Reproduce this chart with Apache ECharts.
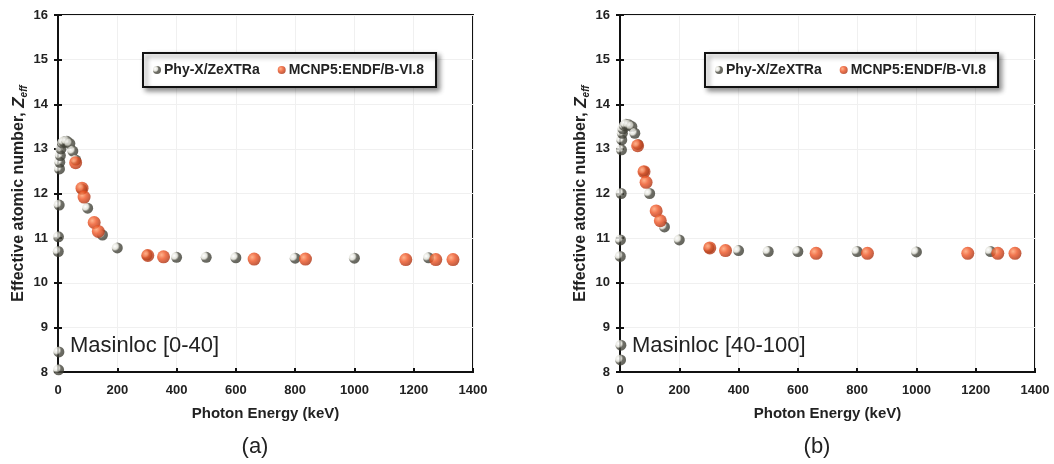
<!DOCTYPE html>
<html>
<head>
<meta charset="utf-8">
<script src="https://cdn.jsdelivr.net/npm/echarts@6/dist/echarts.min.js"></script>
<style>
html,body{margin:0;padding:0;background:#fff;}
#chart{width:1054px;height:464px;}
</style>
</head>
<body>
<div id="chart"></div>
<script>
// ---- data ----
const xTicks = [0, 200, 400, 600, 800, 1000, 1200, 1400];
const yTicks = [8, 9, 10, 11, 12, 13, 14, 15, 16];
const seriesNames = ['Phy-X/ZeXTRa', 'MCNP5:ENDF/B-VI.8'];
const panelLabels = ['Masinloc [0-40]', 'Masinloc [40-100]'];
const captions = ['(a)', '(b)'];

const phyxEnergy = [1, 1.5, 2, 3, 4, 5, 6, 8, 10, 15, 20, 30, 40, 50, 60, 80, 100, 150, 200, 300, 400, 500, 600, 800, 1000, 1250];
const phyxA = [10.70, 11.03, 8.05, 8.45, 11.74, 12.55, 12.70, 12.85, 13.00, 13.13, 13.16, 13.17, 13.12, 12.95, 12.75, 12.10, 11.67, 11.07, 10.78, 10.62, 10.57, 10.57, 10.56, 10.55, 10.55, 10.56];
const phyxB = [10.59, 10.96, 8.27, 8.60, 12.00, 12.98, 13.20, 13.35, 13.45, 13.52, 13.55, 13.54, 13.50, 13.35, 13.10, 12.50, 12.00, 11.25, 10.96, 10.78, 10.72, 10.70, 10.70, 10.70, 10.69, 10.70];

const mcnpEnergy = [59.5, 81, 88, 122, 136, 302.9, 356, 661.7, 834.8, 1173.2, 1274.5, 1332.5];
const mcnpA = [12.69, 12.12, 11.92, 11.35, 11.15, 10.61, 10.58, 10.53, 10.53, 10.52, 10.52, 10.52];
const mcnpB = [13.07, 12.49, 12.25, 11.61, 11.39, 10.78, 10.72, 10.66, 10.66, 10.66, 10.66, 10.66];

// ---- build ----
const FONT = '"Liberation Sans", Arial, sans-serif';
const chart = echarts.init(document.getElementById('chart'));
const pair = (xs, ys) => xs.map((x, i) => [x, ys[i]]);

const grayBall = new echarts.graphic.RadialGradient(0.28, 0.35, 0.8, [
  {offset: 0, color: '#ffffff'},
  {offset: 0.35, color: '#dcdcd2'},
  {offset: 0.55, color: '#4a4a40'},
  {offset: 1, color: '#3a3a30'}
]);
const orangeBall = new echarts.graphic.RadialGradient(0.35, 0.35, 0.7, [
  {offset: 0, color: '#ffa070'},
  {offset: 0.45, color: '#ee5424'},
  {offset: 1, color: '#a83010'}
]);

const gridLefts = [58, 620];
const grids = [], xAxes = [], yAxes = [], series = [], legends = [], graphics = [];

gridLefts.forEach((gl, k) => {
  grids.push({left: gl, top: 15, width: 415, height: 357, show: true, borderColor: '#111', borderWidth: 2, backgroundColor: 'transparent'});
  xAxes.push({
    gridIndex: k, type: 'value', min: xTicks[0], max: xTicks[xTicks.length - 1], interval: 200,
    name: 'Photon Energy (keV)', nameLocation: 'middle', nameGap: 34,
    nameTextStyle: {fontFamily: FONT, fontWeight: 'bold', fontSize: 15, color: '#222'},
    axisLine: {show: true, onZero: false, lineStyle: {color: '#111', width: 2}},
    axisTick: {show: true, inside: true, length: 4, lineStyle: {color: '#111', width: 2}},
    axisLabel: {fontFamily: FONT, fontWeight: 'bold', fontSize: 13, color: '#222', margin: 12, formatter: v => String(v)},
    splitLine: {show: true, lineStyle: {color: '#f0f0f0', width: 1}}
  });
  yAxes.push({
    gridIndex: k, type: 'value', min: yTicks[0], max: yTicks[yTicks.length - 1], interval: 1,
    name: '{a|Effective atomic number, }{z|Z}{s|eff}', nameLocation: 'middle', nameGap: 29, nameRotate: 90,
    nameTextStyle: {
      rich: {
        a: {fontFamily: FONT, fontWeight: 'bold', fontSize: 16, color: '#222', lineHeight: 20},
        z: {fontFamily: FONT, fontWeight: 'bold', fontStyle: 'italic', fontSize: 17, color: '#222', lineHeight: 20},
        s: {fontFamily: FONT, fontWeight: 'bold', fontStyle: 'italic', fontSize: 10, color: '#222', lineHeight: 20, verticalAlign: 'bottom', padding: [9, 0, 0, 0]}
      }
    },
    axisLine: {show: true, onZero: false, lineStyle: {color: '#111', width: 2}},
    axisTick: {show: true, inside: true, length: 4, lineStyle: {color: '#111', width: 2}},
    axisLabel: {fontFamily: FONT, fontWeight: 'bold', fontSize: 13, color: '#222', margin: 10},
    splitLine: {show: true, lineStyle: {color: '#f0f0f0', width: 1}}
  });
  // right-side y axis for inward ticks on frame
  yAxes.push({
    gridIndex: k, type: 'value', position: 'right', min: yTicks[0], max: yTicks[yTicks.length - 1], interval: 1,
    axisLine: {show: true, lineStyle: {color: '#111', width: 2}},
    axisTick: {show: true, inside: true, length: 4, lineStyle: {color: '#111', width: 2}},
    axisLabel: {show: false}, splitLine: {show: false}
  });
  const phy = k === 0 ? phyxA : phyxB;
  const mc = k === 0 ? mcnpA : mcnpB;
  series.push({
    name: seriesNames[0], type: 'scatter', xAxisIndex: k, yAxisIndex: 2 * k,
    data: pair(phyxEnergy, phy), symbol: 'circle', symbolSize: 11,
    itemStyle: {color: grayBall}, z: 3
  });
  series.push({
    name: seriesNames[1], type: 'scatter', xAxisIndex: k, yAxisIndex: 2 * k,
    data: pair(mcnpEnergy, mc), symbol: 'circle', symbolSize: 13,
    itemStyle: {color: orangeBall}, z: 4
  });
  legends.push({
    data: seriesNames, left: gl + 85, top: 53, orient: 'horizontal',
    itemWidth: 8, itemHeight: 8, itemGap: 18, padding: [10, 12, 10, 10],
    backgroundColor: '#fff', borderColor: '#111', borderWidth: 2,
    shadowColor: 'rgba(0,0,0,0.45)', shadowBlur: 5, shadowOffsetX: 3, shadowOffsetY: 3,
    textStyle: {fontFamily: FONT, fontWeight: 'bold', fontSize: 14, color: '#222', padding: [0, 0, 0, -2]},
    selectedMode: false
  });
  graphics.push({
    type: 'text', left: gl + 12, top: 335, z: 10,
    style: {text: panelLabels[k], font: '22px ' + FONT, fill: '#222'}
  });
  graphics.push({
    type: 'text', x: gl + 197, y: 447,
    style: {text: captions[k], font: '22px ' + FONT, fill: '#222', textAlign: 'center', textVerticalAlign: 'middle'}
  });
});

chart.setOption({
  animation: false,
  backgroundColor: '#fff',
  grid: grids,
  xAxis: xAxes,
  yAxis: yAxes,
  legend: legends,
  series: series,
  graphic: graphics
});
</script>
</body>
</html>
